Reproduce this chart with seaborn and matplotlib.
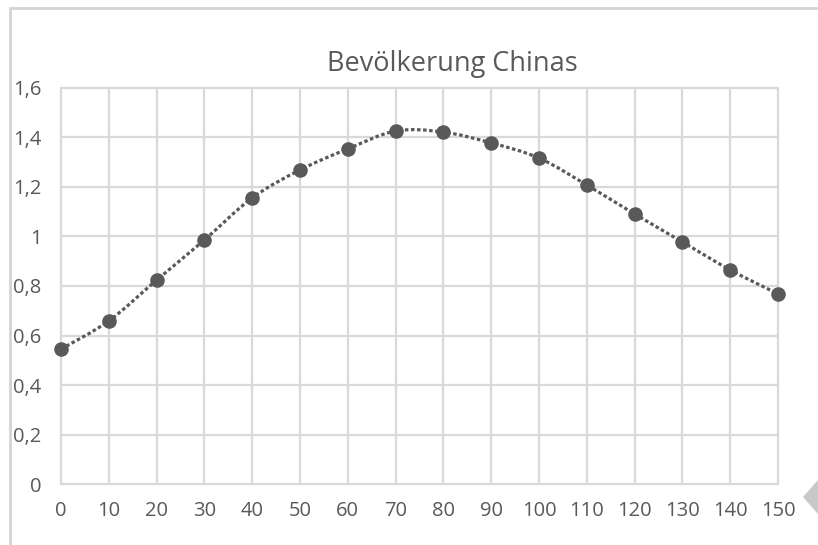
import numpy as np
import pandas as pd
import matplotlib
matplotlib.use("Agg")
import matplotlib.pyplot as plt
import seaborn as sns
from matplotlib.path import Path
from matplotlib.patches import PathPatch, Polygon, Rectangle
from matplotlib.ticker import FuncFormatter, MultipleLocator

# Data
years = [0, 10, 20, 30, 40, 50, 60, 70, 80, 90, 100, 110, 120, 130, 140, 150]
population = [0.545, 0.659, 0.824, 0.986, 1.156, 1.269, 1.354, 1.426, 1.422,
              1.378, 1.317, 1.208, 1.091, 0.978, 0.865, 0.768]
title = "Bevölkerung Chinas"

sns.set_theme(style="white")
plt.rcParams['font.family'] = ['Open Sans', 'DejaVu Sans']

GRAY = "#595959"
GRID = "#d9d9d9"

fig = plt.figure(figsize=(8.18, 5.45), dpi=100)
ax = fig.add_axes([61/818, 61/545, (778-61)/818, (484-88)/545])

df = pd.DataFrame({"x": years, "y": population})

# Smooth (Excel-like) curve through the points as a Bezier path
x = np.array(years, float)
y = np.array(population, float)
n = len(x)
verts = [(x[0], y[0])]
codes = [Path.MOVETO]
t = 1.0 / 6.0
for i in range(n - 1):
    p0 = (x[i-1], y[i-1]) if i > 0 else (x[i], y[i])
    p1 = (x[i], y[i])
    p2 = (x[i+1], y[i+1])
    p3 = (x[i+2], y[i+2]) if i + 2 < n else (x[i+1], y[i+1])
    c1 = (p1[0] + (p2[0]-p0[0])*t, p1[1] + (p2[1]-p0[1])*t)
    c2 = (p2[0] - (p3[0]-p1[0])*t, p2[1] - (p3[1]-p1[1])*t)
    verts += [c1, c2, p2]
    codes += [Path.CURVE4]*3
patch = PathPatch(Path(verts, codes), facecolor="none", edgecolor=GRAY,
                  lw=2.3, linestyle=(0, (1.1, 0.8)), zorder=3)
ax.add_patch(patch)

sns.scatterplot(data=df, x="x", y="y", ax=ax, s=110, color=GRAY,
                edgecolor=GRAY, linewidth=0, zorder=4, legend=False,
                clip_on=False)

ax.set_xlim(0, 150)
ax.set_ylim(0, 1.6)
ax.xaxis.set_major_locator(MultipleLocator(10))
ax.yaxis.set_major_locator(MultipleLocator(0.2))
ax.yaxis.set_major_formatter(FuncFormatter(
    lambda v, p: "0" if abs(v) < 1e-9 else ("1" if abs(v-1) < 1e-9 else f"{v:.1f}".replace(".", ","))))
ax.set_xlabel("")
ax.set_ylabel("")
for s in ax.spines.values():
    s.set_visible(False)
ax.grid(True, color=GRID, lw=1.6)
for gl in ax.get_xgridlines() + ax.get_ygridlines():
    gl.set_clip_on(False)
ax.set_axisbelow(True)
ax.tick_params(axis="both", length=0, labelsize=14.5, labelcolor=GRAY)
ax.tick_params(axis="x", pad=12)
ax.tick_params(axis="y", pad=14)

fig.text(452/818, 1 - 64/545, title, ha="center", va="center",
         fontsize=19.5, color=GRAY)

# chart frame
fig.add_artist(Rectangle((10/818, -0.1), 1.2, 1 - 8/545 + 0.1,
                         transform=fig.transFigure, fill=False,
                         edgecolor="#d4d4d4", lw=2))
# page corner triangle
fig.add_artist(Polygon([(803/818, 1 - 497/545), (818/818, 1 - 480/545),
                        (818/818, 1 - 514/545)], closed=True,
                       transform=fig.transFigure, facecolor="#c8c8c8",
                       edgecolor="none"))

fig.savefig("out.png", dpi=100)
